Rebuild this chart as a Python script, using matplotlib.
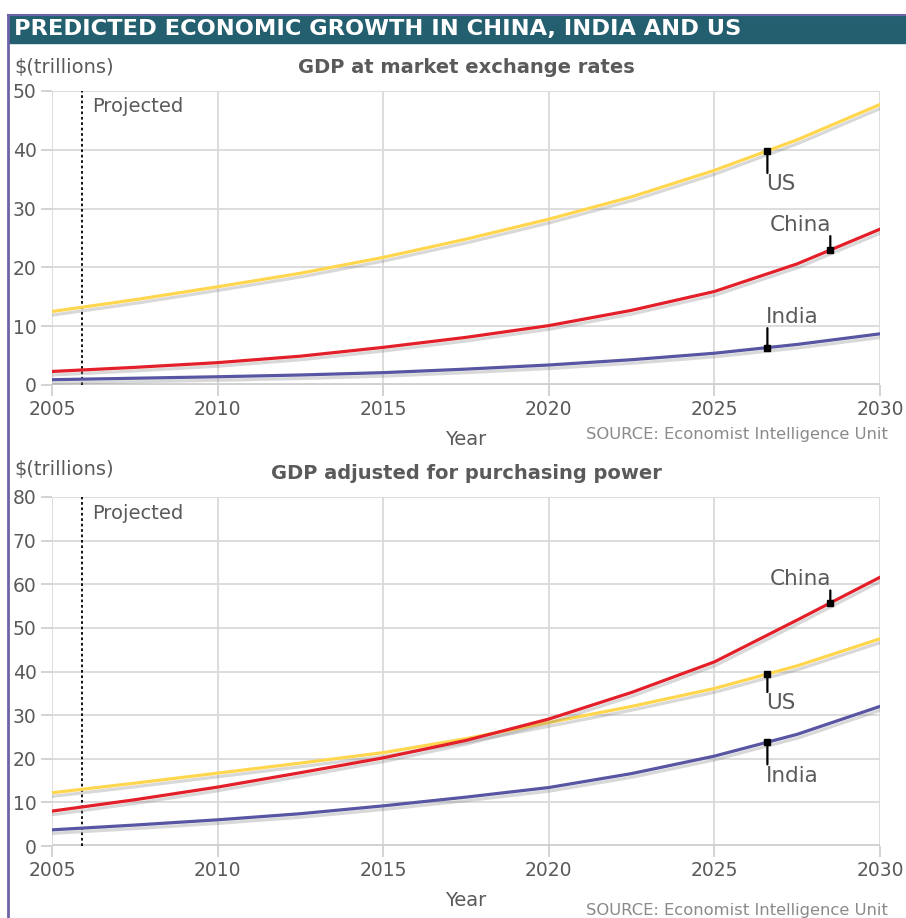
import matplotlib.pyplot as plt
import matplotlib.patheffects as pe
import numpy as np

years = [2005, 2007.5, 2010, 2012.5, 2015, 2017.5, 2020, 2022.5, 2025, 2027.5, 2030]

# GDP at market exchange rates, $ trillions
mer_us = [12.5, 14.5, 16.7, 19.0, 21.7, 24.8, 28.2, 32.0, 36.5, 41.7, 47.7]
mer_china = [2.3, 3.0, 3.8, 4.9, 6.4, 8.1, 10.1, 12.7, 15.9, 20.6, 26.5]
mer_india = [0.9, 1.15, 1.4, 1.7, 2.1, 2.7, 3.4, 4.3, 5.4, 6.9, 8.7]

# GDP adjusted for purchasing power, $ trillions
ppp_us = [12.2, 14.4, 16.7, 19.0, 21.4, 24.6, 28.3, 32.0, 36.1, 41.3, 47.5]
ppp_china = [8.0, 10.6, 13.5, 16.8, 20.2, 24.2, 29.1, 35.2, 42.2, 51.8, 61.6]
ppp_india = [3.7, 4.8, 6.0, 7.4, 9.2, 11.2, 13.4, 16.6, 20.6, 25.6, 32.0]

colors = {"US": "#ffd64d", "China": "#e3202a", "India": "#5856a3"}
projected_from = 2005.9

GRAY = "#5a5a5a"
plt.rcParams["font.family"] = ["DejaVu Sans"]


def draw_panel(ax, series, ymax, title, labels):
    ax.set_xlim(2005, 2030)
    ax.set_ylim(0, ymax)
    ax.set_xticks(range(2005, 2031, 5))
    ax.set_yticks(range(0, ymax + 1, 10))
    ax.grid(color="#dadada", lw=1.3)
    ax.set_axisbelow(True)
    for s in ax.spines.values():
        s.set_visible(False)
    ax.axhline(0, color="#d0d0d0", lw=3.5, zorder=1)
    ax.tick_params(color="#d0d0d0", length=8, width=1.3, labelcolor=GRAY,
                   labelsize=13.5, pad=3)
    ax.axvline(projected_from, color="black", ls=(0, (1.5, 1.5)), lw=1.3, zorder=2)
    ax.text(projected_from + 0.3, ymax * 0.98, "Projected", color=GRAY,
            fontsize=14, va="top")

    for name, vals in series.items():
        ax.plot(years, vals, color=colors[name], lw=2.3, zorder=3,
                solid_joinstyle="round",
                path_effects=[pe.SimpleLineShadow(offset=(1, -2.5),
                                                  shadow_color="0.5", alpha=0.3),
                              pe.Normal()])

    for name, (lx, dy, ha) in labels.items():
        ly = np.interp(lx, years, series[name])
        ax.plot(lx, ly, "s", color="black", ms=4.5, zorder=5)
        ax.annotate("", xy=(lx, ly), xytext=(0, dy), textcoords="offset points",
                    arrowprops=dict(arrowstyle="-", color="black", lw=1.6,
                                    shrinkA=0, shrinkB=0), zorder=5)
        ax.annotate(name, xy=(lx, ly), xytext=(-1 if ha == "left" else 1,
                                                dy + (1 if dy > 0 else -1)),
                    textcoords="offset points", ha=ha,
                    va="bottom" if dy > 0 else "top", fontsize=15.5, color=GRAY)

    ax.set_title(title, fontsize=14, fontweight="bold", color=GRAY, pad=13)
    ax.set_xlabel("Year", fontsize=14, color=GRAY, labelpad=8)


fig = plt.figure(figsize=(9.06, 9.18), dpi=100)

# frame: title bar and left border
fig.patches.append(plt.Rectangle((8 / 906, 1 - 43 / 918), 1, 28 / 918,
                                 transform=fig.transFigure, color="#245f70"))
fig.add_artist(plt.Line2D([8 / 906, 8 / 906], [0, 1 - 15 / 918],
                          transform=fig.transFigure, color="#6b64a8", lw=2))
fig.add_artist(plt.Line2D([8 / 906, 1], [1 - 15 / 918, 1 - 15 / 918],
                          transform=fig.transFigure, color="#6b64a8", lw=1.5))
fig.text(14 / 906, 1 - 29 / 918, "PREDICTED ECONOMIC GROWTH IN CHINA, INDIA AND US",
         color="white", fontsize=16.2, fontweight="bold", va="center")

ax1 = fig.add_axes([52 / 906, 1 - 385 / 918, 828 / 906, 294 / 918])
draw_panel(ax1, {"US": mer_us, "China": mer_china, "India": mer_india}, 50,
           "GDP at market exchange rates",
           {"US": (2026.6, -16, "left"), "China": (2028.5, 10, "right"),
            "India": (2026.6, 14, "left")})
fig.text(14 / 906, 1 - 68 / 918, "$(trillions)", fontsize=14, color=GRAY, va="center")
fig.text(888 / 906, 1 - 435 / 918, "SOURCE: Economist Intelligence Unit",
         fontsize=11.8, color="#8a8a8a", ha="right", va="center")

ax2 = fig.add_axes([52 / 906, 1 - 846 / 918, 828 / 906, 349 / 918])
draw_panel(ax2, {"US": ppp_us, "China": ppp_china, "India": ppp_india}, 80,
           "GDP adjusted for purchasing power",
           {"China": (2028.5, 9, "right"), "US": (2026.6, -13, "left"),
            "India": (2026.6, -16, "left")})
fig.text(14 / 906, 1 - 469 / 918, "$(trillions)", fontsize=14, color=GRAY, va="center")
fig.text(888 / 906, 1 - 910 / 918, "SOURCE: Economist Intelligence Unit",
         fontsize=11.8, color="#8a8a8a", ha="right", va="center")

fig.savefig("out.png", dpi=100)
